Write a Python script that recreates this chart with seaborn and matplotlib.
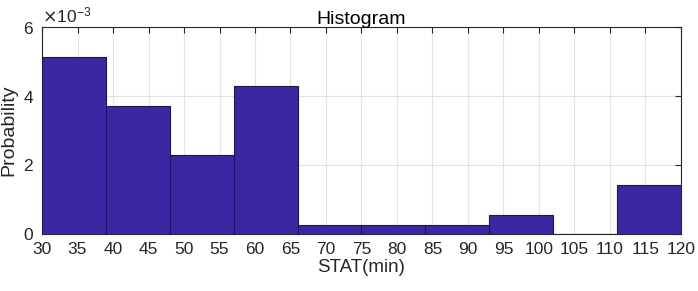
import matplotlib
matplotlib.use("Agg")
import matplotlib.pyplot as plt
import seaborn as sns
import numpy as np
from matplotlib.ticker import ScalarFormatter

bin_edges = [30, 39, 48, 57, 66, 75, 84, 93, 102, 111, 120]
probabilities = [5.14e-3, 3.71e-3, 2.28e-3, 4.28e-3, 0.27e-3, 0.27e-3, 0.27e-3, 0.56e-3, 0.0, 1.43e-3]
x_ticks = list(range(30, 121, 5))
y_ticks = [0, 2e-3, 4e-3, 6e-3]

sns.set_theme(style="white")
plt.rcParams['font.family'] = ['Liberation Sans', 'DejaVu Sans']

centers = [(a + b) / 2 for a, b in zip(bin_edges[:-1], bin_edges[1:])]

fig = plt.figure(figsize=(6.98, 2.91), dpi=100)
ax = fig.add_axes([0.0602, 0.1959, 0.9154, 0.7113])

sns.histplot(x=centers, weights=probabilities, bins=bin_edges, ax=ax,
             color="#3A28A2", alpha=1.0, edgecolor="#1E1650", linewidth=0.8, zorder=3)

ax.set_xlim(30, 120)
ax.set_ylim(0, 6e-3)
ax.set_xticks(x_ticks)
ax.set_yticks(y_ticks)
fmt = ScalarFormatter(useMathText=True)
fmt.set_powerlimits((-2, 2))
ax.yaxis.set_major_formatter(fmt)
ax.yaxis.get_offset_text().set_fontsize(12.5)
ax.yaxis.get_offset_text().set_color("#262626")

ax.grid(True, color="#E3E3E3", linewidth=0.8, zorder=0)
ax.set_axisbelow(True)
ax.tick_params(axis='both', direction='in', length=4, width=0.8, labelsize=12.5,
               top=True, right=True, colors="#262626", labelcolor="#262626", pad=6)
for side in ['left', 'top', 'right', 'bottom']:
    ax.spines[side].set_visible(True)
    ax.spines[side].set_color("#262626")
    ax.spines[side].set_linewidth(0.8)

ax.set_xlabel("STAT(min)", fontsize=13.5, color="#262626", labelpad=1)
ax.set_ylabel("Probability", fontsize=14, color="#262626", labelpad=4)
ax.set_title("Histogram", fontsize=14, color="#000000", pad=2)

fig.savefig("out.png", dpi=100)
